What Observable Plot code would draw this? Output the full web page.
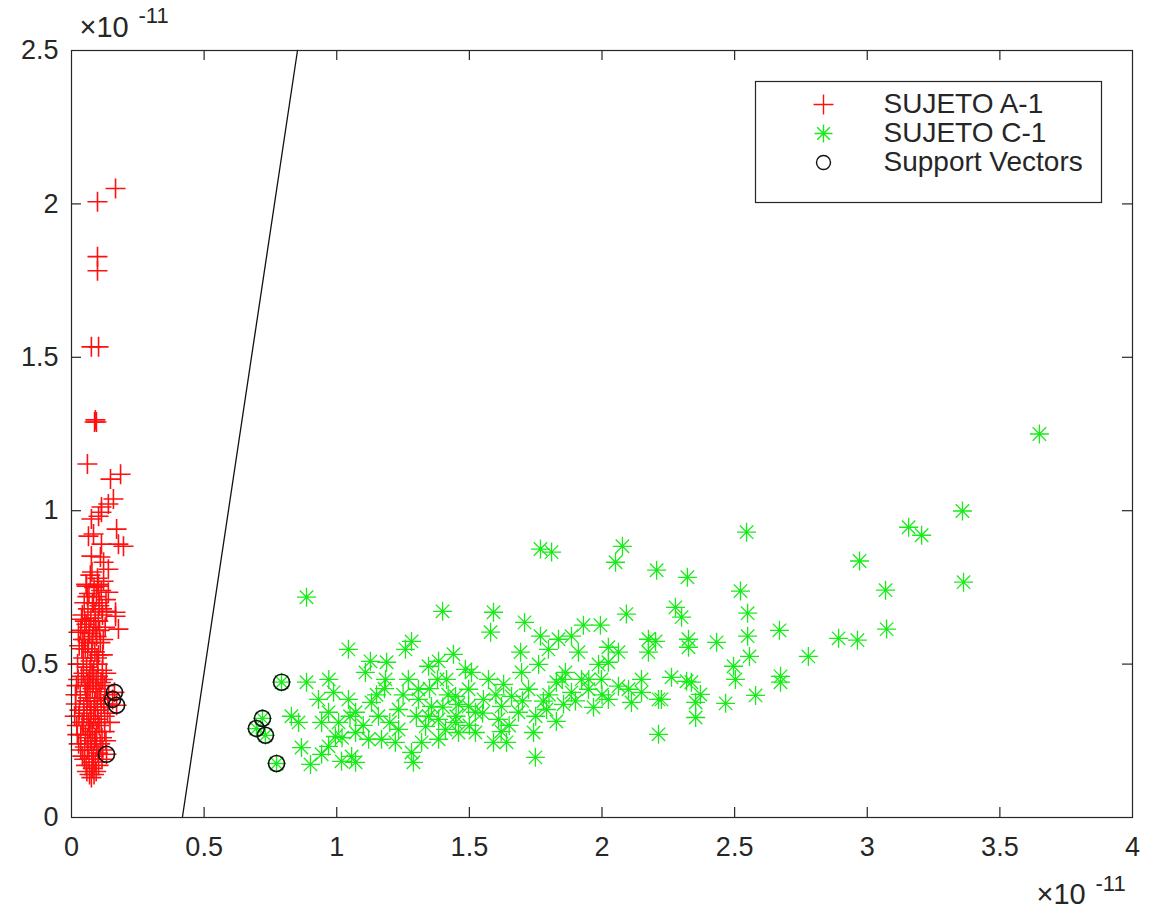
<!DOCTYPE html>
<html><head><meta charset="utf-8">
<script src="https://cdn.jsdelivr.net/npm/d3@7"></script>
<script src="https://cdn.jsdelivr.net/npm/@observablehq/plot@0.6"></script>
<style>body{margin:0;background:#fff;}</style>
</head><body><div id="chart"></div>
<script>
const xTicks = [0, 0.5, 1, 1.5, 2, 2.5, 3, 3.5, 4];
const yTicks = [0, 0.5, 1, 1.5, 2, 2.5];
const seriesNames = ["SUJETO A-1", "SUJETO C-1", "Support Vectors"];
const exponentLabel = ["×10", "-11"];

// SUJETO A-1 (red +), units of 1e-11
const sujetoA = [
[0.166,2.050],[0.098,2.007],[0.098,1.828],[0.098,1.782],[0.075,1.534],[0.102,1.534],[0.087,1.289],[0.094,1.289],[0.090,1.296],[0.060,1.152],
[0.185,1.119],[0.147,1.103],[0.158,1.038],[0.139,1.022],[0.113,1.012],[0.102,0.982],[0.075,0.973],[0.113,0.995],[0.170,0.940],[0.083,0.924],
[0.064,0.917],[0.196,0.884],[0.177,0.891],[0.113,0.891],[0.075,0.852],[0.109,0.849],[0.121,0.832],[0.139,0.809],[0.057,0.754],[0.102,0.754],
[0.139,0.734],[0.166,0.669],[0.132,0.672],[0.177,0.614],[0.166,0.656],[0.038,0.646],[0.026,0.604],
[0.071,0.79],[0.098,0.78],[0.121,0.77],[0.055,0.76],[0.085,0.75],[0.112,0.74],[0.066,0.73],[0.094,0.72],[0.130,0.71],[0.048,0.70],
[0.079,0.70],[0.105,0.69],[0.062,0.68],[0.089,0.67],[0.117,0.66],[0.041,0.66],[0.073,0.65],[0.101,0.64],[0.056,0.63],[0.083,0.62],
[0.127,0.62],[0.035,0.61],[0.068,0.60],[0.095,0.59],[0.049,0.58],[0.078,0.57],[0.109,0.57],[0.029,0.56],[0.061,0.55],[0.088,0.54],
[0.118,0.53],[0.044,0.52],[0.072,0.51],[0.099,0.50],[0.023,0.50],[0.057,0.49],[0.084,0.48],[0.131,0.47],[0.038,0.46],[0.066,0.45],
[0.093,0.45],[0.111,0.44],[0.019,0.43],[0.051,0.43],[0.079,0.42],[0.104,0.41],[0.140,0.40],[0.033,0.40],[0.062,0.39],[0.088,0.38],
[0.122,0.37],[0.016,0.37],[0.046,0.36],[0.074,0.35],[0.098,0.35],[0.136,0.34],[0.028,0.33],[0.058,0.33],[0.083,0.32],[0.112,0.31],
[0.020,0.30],[0.044,0.30],[0.069,0.29],[0.095,0.28],[0.125,0.28],[0.035,0.27],[0.060,0.26],[0.086,0.25],[0.108,0.24],[0.027,0.24],
[0.050,0.23],[0.076,0.22],[0.100,0.21],[0.041,0.20],[0.066,0.19],[0.090,0.18],[0.115,0.19],[0.055,0.17],[0.080,0.16],[0.068,0.14],
[0.093,0.15],[0.075,0.13],
[0.092,0.61],[0.064,0.57],[0.102,0.53],[0.078,0.47],[0.054,0.41],[0.097,0.39],[0.070,0.37],[0.047,0.34],[0.090,0.33],[0.065,0.31],
[0.104,0.30],[0.078,0.28],[0.052,0.27],[0.094,0.23],[0.060,0.22],[0.083,0.20],[0.071,0.25],[0.112,0.36],[0.116,0.48],[0.076,0.54],
[0.050,0.64],[0.104,0.70],[0.082,0.44],[0.039,0.55],[0.126,0.43],
[0.045,0.47],[0.070,0.43],[0.100,0.46],[0.030,0.35],[0.058,0.38],[0.085,0.36],[0.110,0.39],[0.040,0.31],[0.073,0.32],[0.100,0.32],
[0.125,0.33],[0.035,0.22],[0.062,0.24],[0.090,0.26],[0.115,0.26],[0.048,0.19],[0.077,0.18],[0.102,0.17],[0.058,0.15],[0.085,0.14],
[0.052,0.55],[0.080,0.59],[0.106,0.61],[0.066,0.62],[0.090,0.64],[0.043,0.58],[0.120,0.58],[0.060,0.44],[0.092,0.42],[0.118,0.45],
[0.025,0.45],[0.015,0.40],[0.012,0.33],[0.022,0.27],[0.137,0.37],[0.145,0.31],[0.130,0.25],[0.118,0.22],[0.070,0.48],[0.096,0.52],
[0.083,0.70],[0.060,0.72],[0.115,0.68],[0.100,0.76],[0.077,0.80],
[0.162,0.408],[0.170,0.366],[0.132,0.206],[0.155,0.385]
];

// SUJETO C-1 (green *), units of 1e-11
const sujetoC = [
[3.649,1.250],[3.359,0.999],[3.363,0.767],[3.156,0.946],[3.205,0.920],[2.971,0.836],[3.069,0.741],[3.073,0.614],[2.892,0.584],[2.963,0.578],
[2.778,0.525],[2.669,0.610],[2.673,0.460],[2.673,0.441],[2.579,0.398],[2.545,0.930],[2.522,0.738],[2.549,0.666],[2.549,0.591],[2.556,0.525],
[2.496,0.493],[2.503,0.450],[2.466,0.372],[2.353,0.375],[2.353,0.326],[2.432,0.571],[2.300,0.653],[2.277,0.685],[2.326,0.581],[2.326,0.555],
[2.262,0.457],[2.319,0.444],[2.224,0.385],[2.202,0.574],[2.175,0.539],[2.371,0.401],[2.206,0.806],[2.322,0.783],[1.768,0.875],[1.810,0.865],
[2.077,0.884],[2.051,0.832],[1.591,0.669],[1.580,0.604],[1.708,0.636],[1.768,0.591],[1.930,0.627],[1.994,0.627],[2.092,0.663],[2.175,0.581],
[2.024,0.555],[2.062,0.539],[1.885,0.591],[1.911,0.539],[1.798,0.548],[1.693,0.539],[1.761,0.499],[1.862,0.473],[1.923,0.450],[2.024,0.506],
[1.998,0.450],[2.062,0.428],[2.149,0.450],[2.149,0.408],[2.337,0.441],[2.213,0.385],[2.111,0.375],[1.968,0.359],[1.885,0.408],[1.828,0.441],
[1.779,0.379],[1.828,0.313],[1.742,0.277],[1.749,0.196],[1.640,0.245],[1.591,0.245],[1.523,0.277],[1.523,0.343],[1.572,0.450],[1.659,0.395],
[1.685,0.343],[1.508,0.473],[2.213,0.271],[1.621,0.362],[1.697,0.473],[0.886,0.718],[1.399,0.672],[1.044,0.548],[1.282,0.574],[1.259,0.548],
[1.127,0.509],[1.188,0.506],[1.108,0.473],[1.184,0.450],[1.346,0.493],[1.384,0.509],[1.485,0.483],[1.414,0.450],[0.886,0.441],[0.829,0.330],
[0.856,0.310],[0.931,0.385],[0.988,0.408],[1.044,0.385],[0.969,0.343],[0.943,0.310],[1.007,0.310],[1.071,0.343],[1.131,0.375],[1.157,0.330],
[1.233,0.352],[1.308,0.385],[1.357,0.362],[1.448,0.395],[1.497,0.362],[1.384,0.320],[1.448,0.310],[1.335,0.297],[1.233,0.287],[1.169,0.255],
[1.120,0.255],[1.071,0.277],[0.995,0.264],[0.969,0.232],[0.867,0.228],[0.943,0.206],[0.901,0.173],[1.018,0.183],[1.056,0.199],[1.071,0.180],
[1.282,0.212],[1.289,0.180],[1.221,0.245],[1.320,0.245],[1.384,0.255],[1.459,0.277],[1.410,0.287],[1.346,0.330],
[0.792,0.441],[0.720,0.323],[0.697,0.290],[0.731,0.268],[0.773,0.176],
[1.553,0.385],[1.610,0.320],[1.723,0.418],[1.791,0.352],[1.855,0.369],[1.629,0.434],[1.459,0.369],[1.949,0.418],[2.024,0.385],[2.100,0.418],
[1.987,0.499],[1.836,0.581],[1.497,0.418],[1.440,0.532],[1.270,0.450],[1.308,0.418],
[1.050,0.330],[1.100,0.300],[1.150,0.400],[1.200,0.310],[1.250,0.400],[1.300,0.330],[1.350,0.420],[1.400,0.360],[1.450,0.330],[1.500,0.300],
[1.550,0.340],[1.600,0.400],[1.650,0.300],[1.700,0.380],[1.750,0.330],[1.800,0.400],[1.850,0.450],[1.900,0.380],[1.950,0.450],[2.000,0.400],
[1.180,0.420],[1.420,0.400],[1.620,0.280],[1.380,0.450],[0.970,0.450],[1.020,0.260]
];

// Support vectors (black circles)
const supportVectors = [
[0.162,0.408],[0.170,0.366],[0.155,0.385],[0.132,0.206],
[0.792,0.441],[0.720,0.323],[0.697,0.290],[0.731,0.268],[0.773,0.176]
];

// Separating hyperplane endpoints
const boundary = [[0.418, 0], [0.852, 2.5]];

const W = 1153, H = 911;
const mL = 71, mR = 21, mT = 50, mB = 94;
const innerW = W - mL - mR, innerH = H - mT - mB;
const FONT = "'Liberation Sans', Arial, Helvetica, sans-serif";
const INK = "#262626";
const RED = "#ff1010", GREEN = "#18ec18";

const plusSym = {draw(ctx, size) { const r = Math.sqrt(size / Math.PI);
  ctx.moveTo(-r, 0); ctx.lineTo(r, 0); ctx.moveTo(0, -r); ctx.lineTo(0, r); }};
const starSym = {draw(ctx, size) { const r = Math.sqrt(size / Math.PI), d = r * Math.SQRT1_2;
  ctx.moveTo(-r, 0); ctx.lineTo(r, 0); ctx.moveTo(0, -r); ctx.lineTo(0, r);
  ctx.moveTo(-d, -d); ctx.lineTo(d, d); ctx.moveTo(-d, d); ctx.lineTo(d, -d); }};

const legendRows = [
  {name: seriesNames[0], sym: plusSym, stroke: RED, dy: 54, r: 10},
  {name: seriesNames[1], sym: starSym, stroke: GREEN, dy: 83, r: 9},
  {name: seriesNames[2], sym: "circle", stroke: "#111", dy: 112, r: 7}
];

const chart = Plot.plot({
  width: W, height: H,
  marginLeft: mL, marginRight: mR, marginTop: mT, marginBottom: mB,
  style: {fontFamily: FONT, background: "#fff", color: INK},
  x: {domain: [0, 4], ticks: xTicks},
  y: {domain: [0, 2.5], ticks: yTicks},
  marks: [
    Plot.axisX(xTicks, {tickSize: 0, tickPadding: 19, fontSize: 27, tickFormat: d => `${d}`, label: null, fill: INK}),
    Plot.axisY(yTicks, {tickSize: 0, tickPadding: 13, fontSize: 27, tickFormat: d => `${d}`, label: null, fill: INK}),
    // inward ticks on all four sides
    Plot.ruleX(xTicks.slice(1, -1), {x: d => d, insetTop: innerH - 10, stroke: INK, strokeWidth: 1.2}),
    Plot.ruleX(xTicks.slice(1, -1), {x: d => d, insetBottom: innerH - 10, stroke: INK, strokeWidth: 1.2}),
    Plot.ruleY(yTicks.slice(1, -1), {y: d => d, insetRight: innerW - 10, stroke: INK, strokeWidth: 1.2}),
    Plot.ruleY(yTicks.slice(1, -1), {y: d => d, insetLeft: innerW - 10, stroke: INK, strokeWidth: 1.2}),
    Plot.dot(sujetoA, {x: d => d[0], y: d => d[1], symbol: plusSym, r: 10, stroke: RED, strokeWidth: 1.6, fill: "none"}),
    Plot.dot(sujetoC, {x: d => d[0], y: d => d[1], symbol: starSym, r: 9.5, stroke: GREEN, strokeWidth: 1.3, fill: "none"}),
    Plot.line(boundary, {x: d => d[0], y: d => d[1], stroke: "#111", strokeWidth: 1.3}),
    Plot.dot(supportVectors, {x: d => d[0], y: d => d[1], r: 8, stroke: "#111", strokeWidth: 1.6, fill: "none"}),
    Plot.frame({stroke: INK, strokeWidth: 1.2}),
    // exponent labels
    Plot.text([exponentLabel[0]], {frameAnchor: "top-left", dx: 8, dy: -34, text: d => d, fontSize: 29, textAnchor: "start", fill: INK}),
    Plot.text([exponentLabel[1]], {frameAnchor: "top-left", dx: 67, dy: -43, text: d => d, fontSize: 22, textAnchor: "start", fill: INK}),
    Plot.text([exponentLabel[0]], {frameAnchor: "bottom-right", dx: -96, dy: 86, text: d => d, fontSize: 29, textAnchor: "start", fill: INK}),
    Plot.text([exponentLabel[1]], {frameAnchor: "bottom-right", dx: -37, dy: 73, text: d => d, fontSize: 22, textAnchor: "start", fill: INK}),
    // legend box
    Plot.frame({insetLeft: 684, insetRight: 31, insetTop: 31, insetBottom: innerH - 152, fill: "#fff", stroke: INK, strokeWidth: 1.2}),
    ...legendRows.map(row => Plot.dot([row], {frameAnchor: "top-left", dx: 752, dy: row.dy, symbol: row.sym, r: row.r, stroke: row.stroke, strokeWidth: 1.4, fill: "none"})),
    ...legendRows.map(row => Plot.text([row], {frameAnchor: "top-left", dx: 812, dy: row.dy, text: d => d.name, fontSize: 28, textAnchor: "start", lineAnchor: "middle", fill: INK}))
  ]
});
document.getElementById("chart").appendChild(chart);
</script>
</body></html>
